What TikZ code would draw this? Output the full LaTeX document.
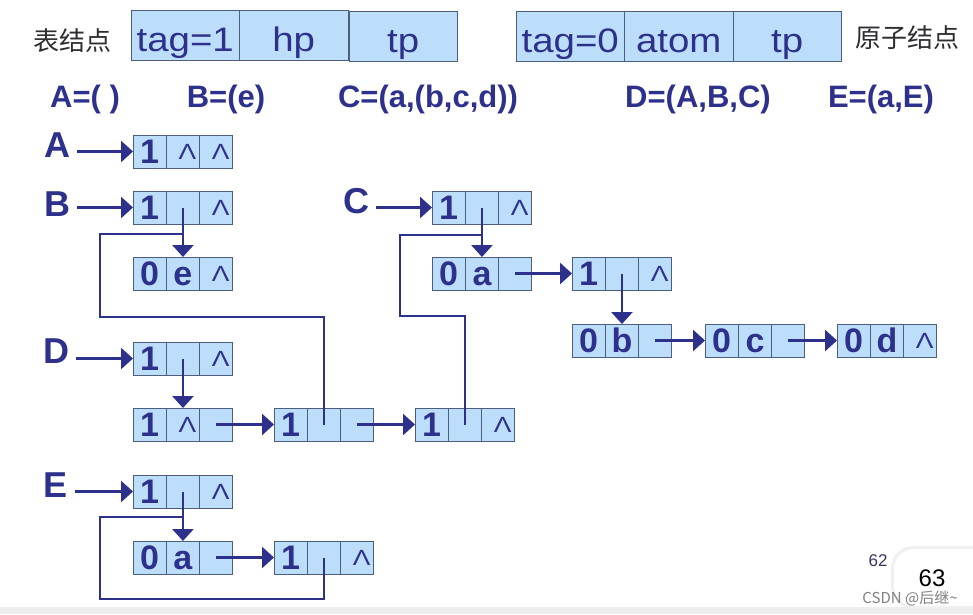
\documentclass[tikz,border=0pt]{standalone}
\usepackage{fontspec}
\setmainfont{Liberation Sans}
\newfontfamily\hfont[FakeStretch=1.13]{Liberation Sans}
\newfontfamily\nfont[FakeStretch=1.2]{Liberation Sans}
\newfontfamily\cjk{Noto Sans CJK SC}
\usetikzlibrary{arrows.meta}
\definecolor{ink}{RGB}{46,49,140}
\definecolor{cellfill}{RGB}{189,222,250}
\definecolor{celledge}{RGB}{75,95,125}
\definecolor{cjkgray}{RGB}{45,45,50}
\newcommand\tx[1]{\vphantom{1}#1}
\newcommand\nul{\hspace*{9pt}{\mdseries\nfont\fontsize{22}{22}\selectfont Λ}}
\newcommand\lnode[6]{%
 \node[cell,anchor=north west] (#1-1) at (#2,#3) {#4};
 \node[cell,anchor=west] (#1-2) at (#1-1.east) {#5};
 \node[cell,anchor=west] (#1-3) at (#1-2.east) {#6};}
\begin{document}
\begin{tikzpicture}[x=1pt,y=-1pt,
 cell/.style={draw=celledge, fill=cellfill, line width=0.9pt, minimum width=33.3pt, minimum height=33pt, inner sep=0pt, outer sep=0pt, text=ink, font=\bfseries\fontsize{34}{34}\selectfont},
 hcell/.style={draw=celledge, fill=cellfill, line width=0.9pt, minimum width=108.5pt, minimum height=50pt, inner sep=0pt, outer sep=0pt, text=ink, text height=33pt, text depth=0pt, font=\hfont\fontsize{34}{34}\selectfont},
 lab/.style={text=ink, inner sep=0pt, font=\bfseries\fontsize{36}{36}\selectfont},
 formula/.style={text=ink, inner sep=0pt, font=\bfseries\fontsize{31}{31}\selectfont},
 cjklab/.style={text=cjkgray, inner sep=0pt, font=\cjk\fontsize{26}{26}\selectfont},
 ptr/.style={draw=ink, line width=2.7pt, -{Triangle[length=12pt,width=21pt]}},
 wire/.style={draw=ink, line width=2.7pt},
]
\useasboundingbox (0,0) rectangle (973,614);
\fill[white] (0,0) rectangle (973,614);

% header
\node[cjklab] (lt) at (72,41) {表结点};
\node[hcell,anchor=north west] (h1) at (131,10) {tag=1};
\node[hcell,anchor=west] (h2) at (h1.east) {hp};
\node[hcell,anchor=north west] (h3) at (349,11) {tp};
\node[hcell,anchor=north west] (g1) at (516,11) {tag=0};
\node[hcell,anchor=west] (g2) at (g1.east) {atom};
\node[hcell,anchor=west] (g3) at (g2.east) {tp};
\node[cjklab] (rt) at (907,38) {原子结点};

% formulas
\node[formula] (fa) at (85,99) {A=( )};
\node[formula] (fb) at (226,99) {B=(e)};
\node[formula] (fc) at (428,99) {C=(a,(b,c,d))};
\node[formula] (fd) at (698,99) {D=(A,B,C)};
\node[formula] (fe) at (881,99) {E=(a,E)};

% labels
\node[lab] (LA) at (57,145) {A};
\node[lab] (LB) at (57,204) {B};
\node[lab] (LC) at (356,201) {C};
\node[lab] (LD) at (56,351) {D};
\node[lab] (LE) at (56,485) {E};

% list nodes
\lnode{A}{133}{135}{\tx1}{\nul}{\nul}
\lnode{B}{133}{191}{\tx1}{}{\nul}
\lnode{e}{133}{257}{\tx0}{\tx e}{\nul}
\lnode{C}{432}{191}{\tx1}{}{\nul}
\lnode{Ca}{432}{257}{\tx0}{\tx a}{}
\lnode{C1}{572}{257}{\tx1}{}{\nul}
\lnode{Cb}{572}{324}{\tx0}{\tx b}{}
\lnode{Cc}{705}{324}{\tx0}{\tx c}{}
\lnode{Cd}{837}{324}{\tx0}{\tx d}{\nul}
\lnode{D}{133}{342}{\tx1}{}{\nul}
\lnode{Da}{133}{408}{\tx1}{\nul}{}
\lnode{Db}{274}{408}{\tx1}{}{}
\lnode{Dc}{415}{408}{\tx1}{}{\nul}
\lnode{E}{133}{475}{\tx1}{}{\nul}
\lnode{Ea}{133}{541}{\tx0}{\tx a}{}
\lnode{Eb}{274}{541}{\tx1}{}{\nul}

% head pointers
\draw[ptr, shorten <=7pt] (LA.east |- A-1.west) -- (A-1.west);
\draw[ptr, shorten <=7pt] (LB.east |- B-1.west) -- (B-1.west);
\draw[ptr, shorten <=7pt] (LC.east |- C-1.west) -- (C-1.west);
\draw[ptr, shorten <=7pt] (LD.east |- D-1.west) -- (D-1.west);
\draw[ptr, shorten <=7pt] (LE.east |- E-1.west) -- (E-1.west);

% loops (shared sublists)
\draw[wire] ([yshift=-10pt]B-2.south) -| (100,317) -| (Db-2.center);
\draw[wire] ([yshift=-11pt]C-2.south) -| (400,316) -| (Dc-2.center);
\draw[wire] ([yshift=-9pt]E-2.south) -| (100,599) -| (Eb-2.center);

% hp pointers
\draw[ptr] (B-2.center) -- (e-2.north);
\draw[ptr] (C-2.center) -- (Ca-2.north);
\draw[ptr] (C1-2.center) -- (Cb-2.north);
\draw[ptr] (D-2.center) -- (Da-2.north);
\draw[ptr] (E-2.center) -- (Ea-2.north);

% tp pointers
\draw[ptr] (Ca-3.center) -- (C1-1.west);
\draw[ptr] (Cb-3.center) -- (Cc-1.west);
\draw[ptr] (Cc-3.center) -- (Cd-1.west);
\draw[ptr] (Da-3.center) -- (Db-1.west);
\draw[ptr] (Db-3.center) -- (Dc-1.west);
\draw[ptr] (Ea-3.center) -- (Eb-1.west);

% page decorations
\fill[gray!14] (0,607) rectangle (973,614);
\fill[gray!12, rounded corners=22pt] (891,546) rectangle (1000,608);
\fill[white, rounded corners=20pt] (894,549) rectangle (1000,606);
\node[inner sep=0pt, text={rgb,255:red,55;green,55;blue,95}, font=\fontsize{17}{17}\selectfont] (p62) at (878,561) {62};
\node[inner sep=0pt, text=black, font=\fontsize{24}{24}\selectfont] (p63) at (932,578) {63};
\node[inner sep=0pt, text=gray, font=\cjk\fontsize{15}{15}\selectfont] (wm) at (910,598) {CSDN @后继\textasciitilde};
\end{tikzpicture}
\end{document}
